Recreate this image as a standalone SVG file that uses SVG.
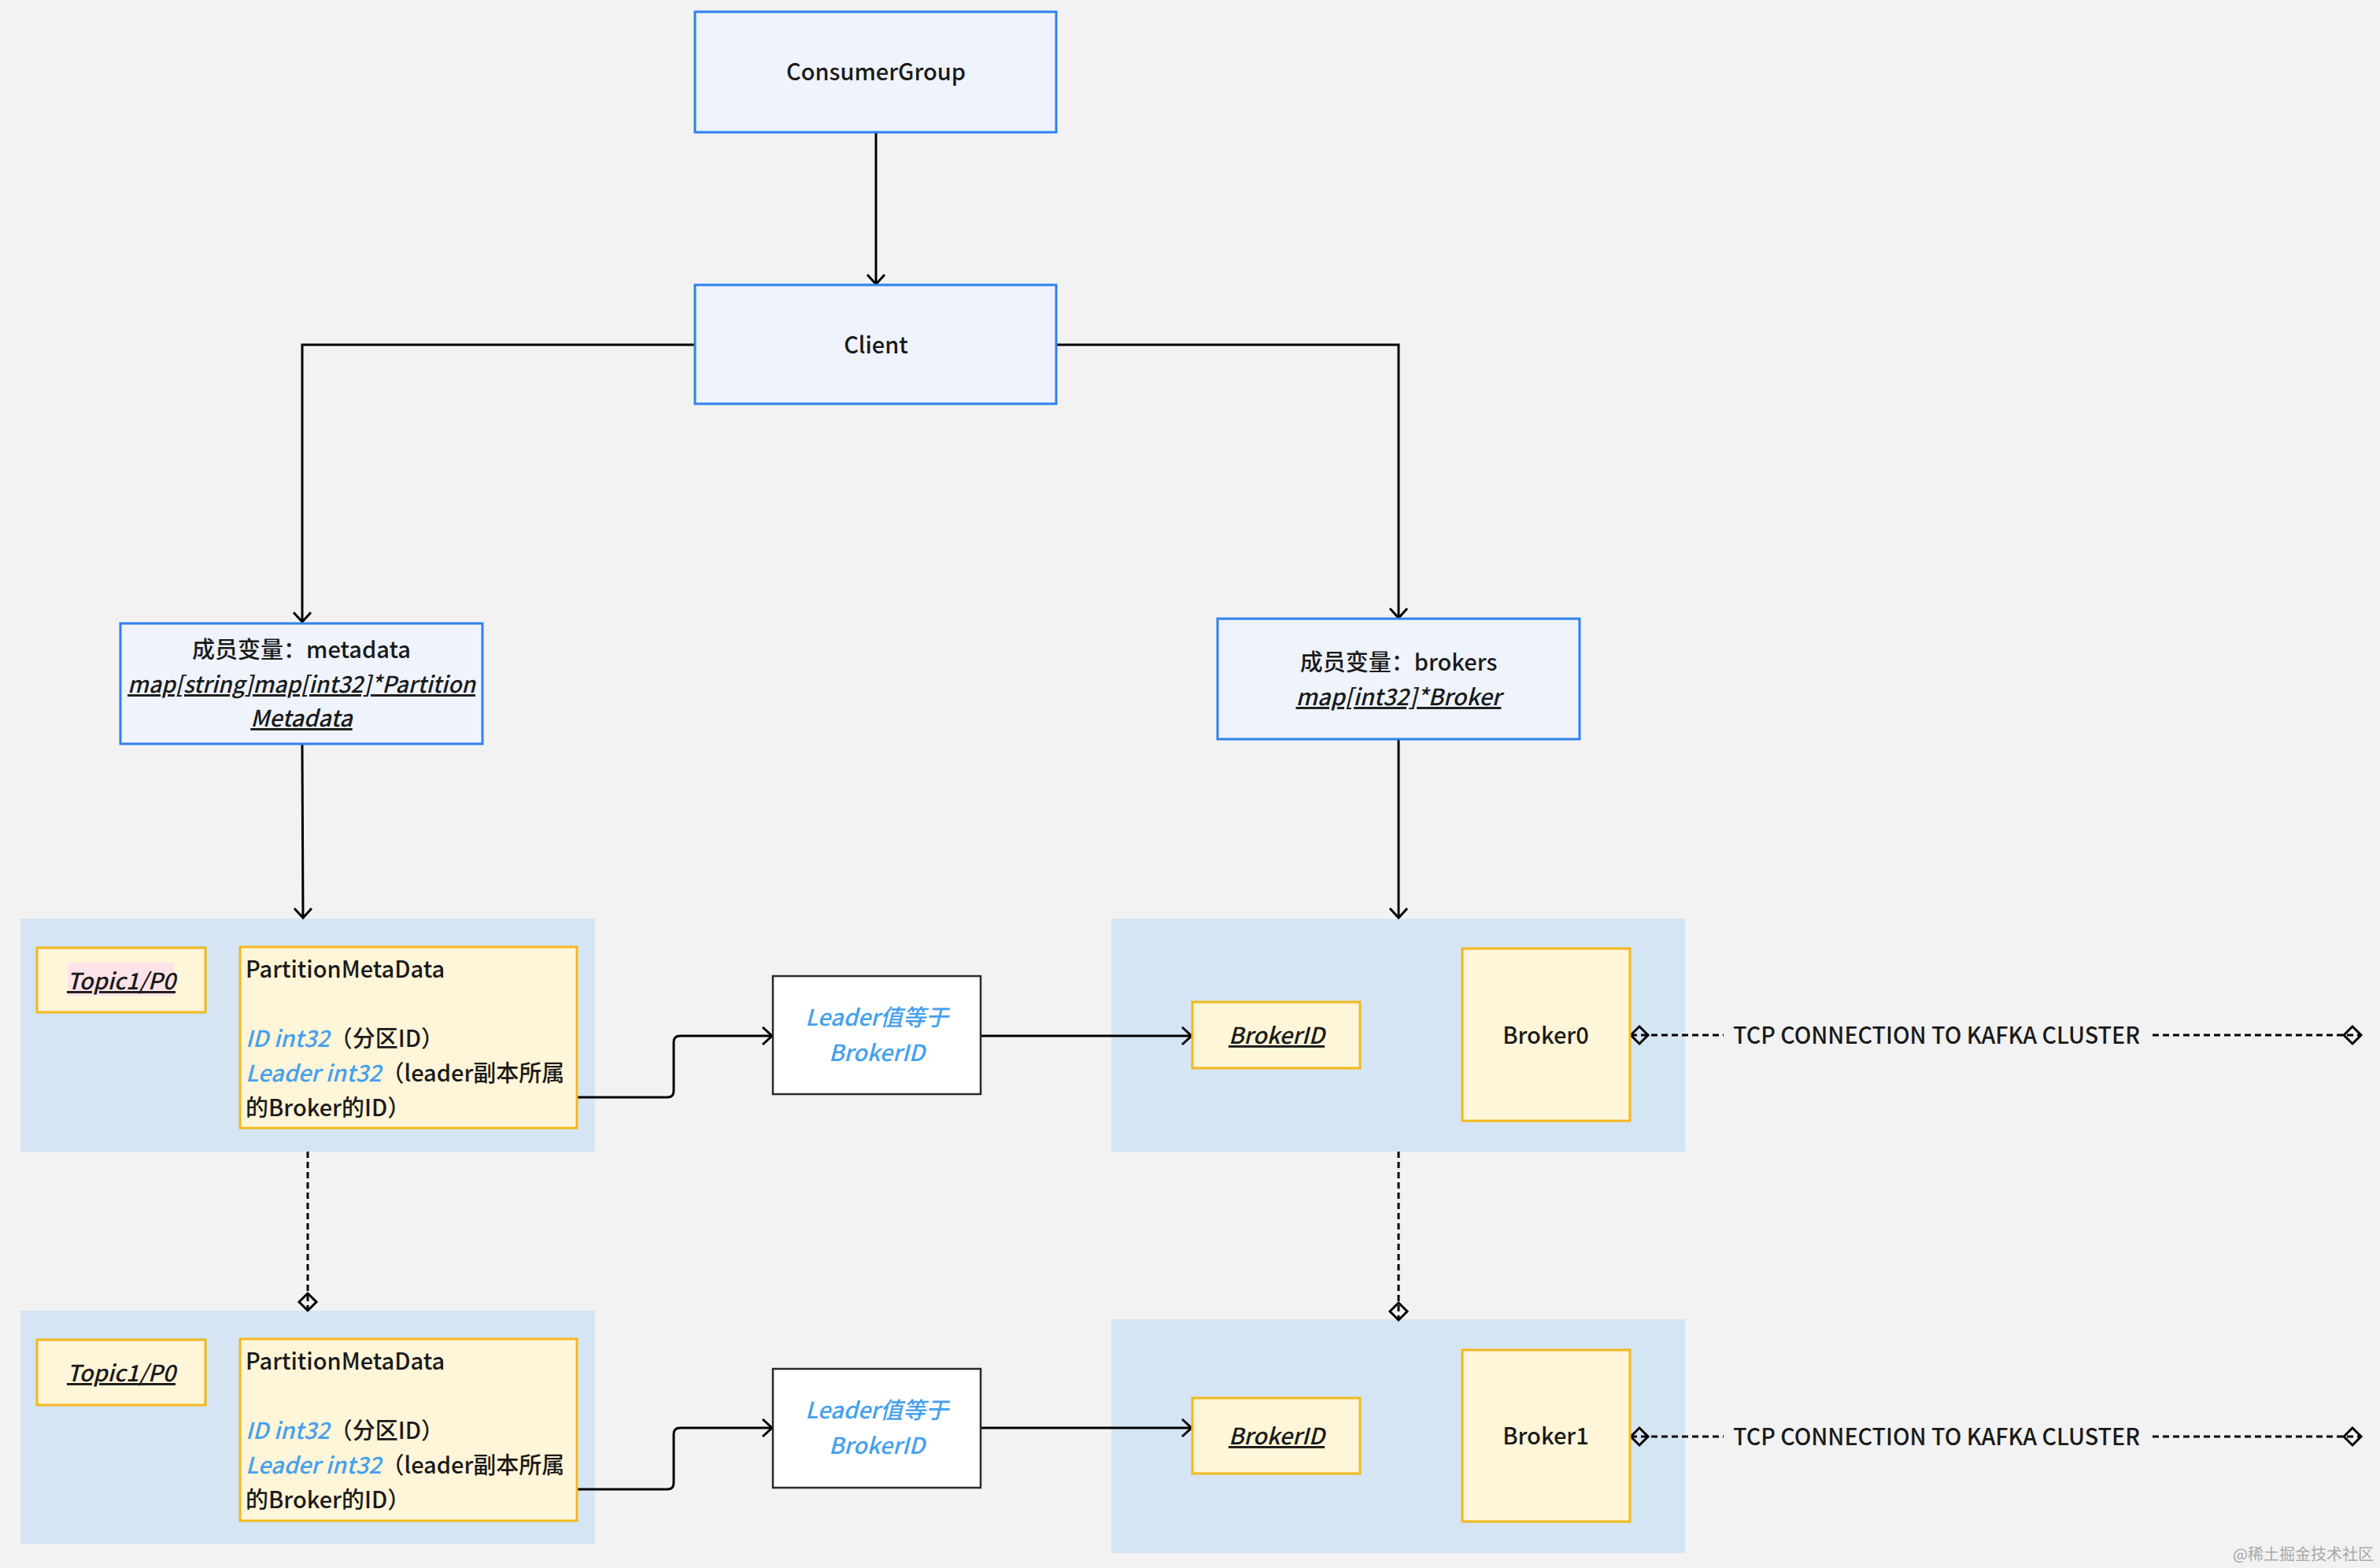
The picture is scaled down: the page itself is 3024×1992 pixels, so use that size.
<svg xmlns="http://www.w3.org/2000/svg" width="3024" height="1992" viewBox="0 0 3024 1992">
<style>
text{font-family:"Noto Sans CJK SC","Noto Sans",sans-serif;fill:#1a1a1a;font-size:29px;font-weight:500}
.blue{fill:#eef3fc;stroke:#2f80ed;stroke-width:3}
.cont{fill:#d5e5f3}
.yel{fill:#fff5d8;stroke:#f4b81c;stroke-width:3}
.lead{fill:#ffffff;stroke:#2a2a2a;stroke-width:2.5}
.c{text-anchor:middle}
.iu{font-style:italic;text-decoration:underline}
.bl{fill:#44a0ee;font-style:italic}
.conn{fill:none;stroke:#000;stroke-width:3}
.dash{fill:none;stroke:#000;stroke-width:3;stroke-dasharray:8 5}
</style>
<defs>
<marker id="arrow" markerUnits="userSpaceOnUse" markerWidth="16" markerHeight="26" refX="13" refY="12" orient="auto" overflow="visible">
<path d="M1,1 L13,12 L1,23" fill="none" stroke="#000" stroke-width="3"/>
</marker>
<marker id="dia" markerUnits="userSpaceOnUse" markerWidth="26" markerHeight="26" refX="22" refY="11" orient="auto" overflow="visible">
<path d="M0,11 L11,0 L22,11 L11,22 Z" fill="none" stroke="#000" stroke-width="3"/>
</marker>
<marker id="diaS" markerUnits="userSpaceOnUse" markerWidth="26" markerHeight="26" refX="0" refY="11" orient="auto" overflow="visible">
<path d="M0,11 L11,0 L22,11 L11,22 Z" fill="none" stroke="#000" stroke-width="3"/>
</marker>
</defs>
<rect x="0" y="0" width="3024" height="1992" fill="#f2f2f2"/>

<g id="containers">
<rect id="partition-container-1" class="cont" x="26" y="1167" width="730" height="296"/>
<rect id="partition-container-2" class="cont" x="26" y="1665" width="730" height="297"/>
<rect id="broker-container-1" class="cont" x="1412" y="1167" width="729" height="296"/>
<rect id="broker-container-2" class="cont" x="1412" y="1676" width="729" height="297"/>
</g>

<g id="connectors">
<path class="conn" d="M1113,168 V361" marker-end="url(#arrow)"/>
<path class="conn" d="M883,438 H384 V790" marker-end="url(#arrow)"/>
<path class="conn" d="M1342,438 H1777 V785" marker-end="url(#arrow)"/>
<path class="conn" d="M384,945 L385,1166" marker-end="url(#arrow)"/>
<path class="conn" d="M1777,939 V1166" marker-end="url(#arrow)"/>
<path class="conn" d="M734,1394 H848 Q856,1394 856,1386 V1324 Q856,1316 864,1316 H981" marker-end="url(#arrow)"/>
<path class="conn" d="M734,1892 H848 Q856,1892 856,1884 V1822 Q856,1814 864,1814 H981" marker-end="url(#arrow)"/>
<path class="conn" d="M1247,1316 H1514" marker-end="url(#arrow)"/>
<path class="conn" d="M1247,1814 H1514" marker-end="url(#arrow)"/>
<path class="dash" d="M391,1463 V1665" marker-end="url(#dia)"/>
<path class="dash" d="M1777,1463 V1677" marker-end="url(#dia)"/>
<path class="dash" d="M2072,1315 H3000" marker-start="url(#diaS)" marker-end="url(#dia)"/>
<path class="dash" d="M2072,1825 H3000" marker-start="url(#diaS)" marker-end="url(#dia)"/>
<rect x="2190" y="1295" width="540" height="40" fill="#f2f2f2"/>
<text x="2202" y="1326" textLength="517" lengthAdjust="spacingAndGlyphs">TCP CONNECTION TO KAFKA CLUSTER</text>
<rect x="2190" y="1805" width="540" height="40" fill="#f2f2f2"/>
<text x="2202" y="1836" textLength="517" lengthAdjust="spacingAndGlyphs">TCP CONNECTION TO KAFKA CLUSTER</text>
</g>

<g id="consumer-group">
<rect class="blue" x="883" y="15" width="459" height="153"/>
<text class="c" x="1113" y="102">ConsumerGroup</text>
</g>

<g id="client">
<rect class="blue" x="883" y="362" width="459" height="151"/>
<text class="c" x="1113" y="449">Client</text>
</g>

<g id="metadata">
<rect class="blue" x="153" y="792" width="460" height="153"/>
<text class="c" x="383" y="836">成员变量：metadata</text>
<text class="c iu" x="383" y="880" textLength="442" lengthAdjust="spacingAndGlyphs">map[string]map[int32]*Partition</text>
<text class="c iu" x="383" y="923">Metadata</text>
</g>

<g id="brokers">
<rect class="blue" x="1547" y="786" width="460" height="153"/>
<text class="c" x="1777" y="852">成员变量：brokers</text>
<text class="c iu" x="1777" y="896">map[int32]*Broker</text>
</g>

<g id="topic-1">
<rect class="yel" x="47" y="1204" width="214" height="82"/>
<rect x="86" y="1223" width="135" height="42" fill="#fde3e8"/>
<text class="c iu" x="154" y="1257">Topic1/P0</text>
</g>

<g id="partition-metadata-1">
<rect class="yel" x="305" y="1203" width="428" height="230"/>
<text x="312" y="1242">PartitionMetaData</text>
<text x="312" y="1330"><tspan class="bl">ID int32</tspan>（分区ID）</text>
<text x="312" y="1374"><tspan class="bl">Leader int32</tspan>（leader副本所属</text>
<text x="312" y="1418">的Broker的ID）</text>
</g>

<g id="leader-1">
<rect class="lead" x="982" y="1240" width="264" height="150"/>
<text class="c bl" x="1114" y="1303">Leader值等于</text>
<text class="c bl" x="1114" y="1348">BrokerID</text>
</g>

<g id="brokerid-1">
<rect class="yel" x="1515" y="1273" width="213" height="84"/>
<text class="c iu" x="1622" y="1326">BrokerID</text>
</g>

<g id="broker0">
<rect class="yel" x="1858" y="1205" width="213" height="219"/>
<text class="c" x="1964" y="1326">Broker0</text>
</g>

<g id="topic-2">
<rect class="yel" x="47" y="1702" width="214" height="83"/>
<text class="c iu" x="154" y="1755">Topic1/P0</text>
</g>

<g id="partition-metadata-2">
<rect class="yel" x="305" y="1701" width="428" height="231"/>
<text x="312" y="1740">PartitionMetaData</text>
<text x="312" y="1828"><tspan class="bl">ID int32</tspan>（分区ID）</text>
<text x="312" y="1872"><tspan class="bl">Leader int32</tspan>（leader副本所属</text>
<text x="312" y="1916">的Broker的ID）</text>
</g>

<g id="leader-2">
<rect class="lead" x="982" y="1739" width="264" height="151"/>
<text class="c bl" x="1114" y="1802">Leader值等于</text>
<text class="c bl" x="1114" y="1847">BrokerID</text>
</g>

<g id="brokerid-2">
<rect class="yel" x="1515" y="1776" width="213" height="96"/>
<text class="c iu" x="1622" y="1835">BrokerID</text>
</g>

<g id="broker1">
<rect class="yel" x="1858" y="1715" width="213" height="218"/>
<text class="c" x="1964" y="1835">Broker1</text>
</g>

<text id="watermark" x="3016" y="1982" text-anchor="end" style="font-size:20px;fill:#a8a8a8;font-weight:400">@稀土掘金技术社区</text>
</svg>
